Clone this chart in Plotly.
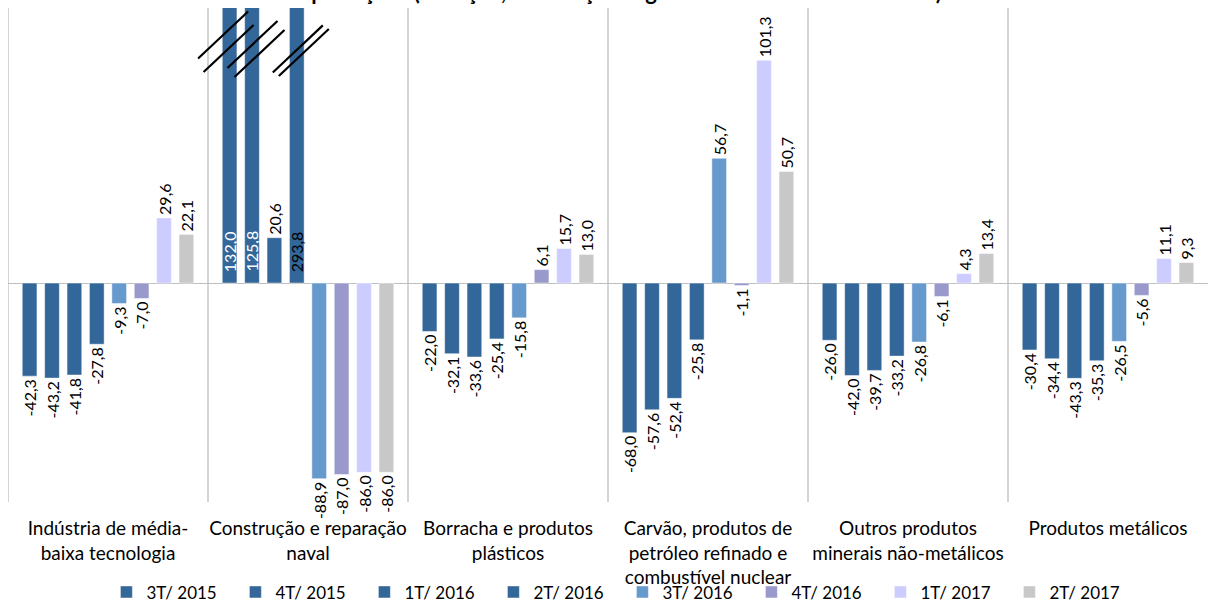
import plotly.graph_objects as go

categories = [
    "Indústria de média-<br>baixa tecnologia",
    "Construção e reparação<br>naval",
    "Borracha e produtos<br>plásticos",
    "Carvão, produtos de<br>petróleo refinado e<br>combustível nuclear",
    "Outros produtos<br>minerais não-metálicos",
    "Produtos metálicos",
]
series_names = ["3T/ 2015", "4T/ 2015", "1T/ 2016", "2T/ 2016",
                "3T/ 2016", "4T/ 2016", "1T/ 2017", "2T/ 2017"]
v_3T2015 = [-42.3, 132.0, -22.0, -68.0, -26.0, -30.4]
v_4T2015 = [-43.2, 125.8, -32.1, -57.6, -42.0, -34.4]
v_1T2016 = [-41.8, 20.6, -33.6, -52.4, -39.7, -43.3]
v_2T2016 = [-27.8, 293.8, -25.4, -25.8, -33.2, -35.3]
v_3T2016 = [-9.3, -88.9, -15.8, 56.7, -26.8, -26.5]
v_4T2016 = [-7.0, -87.0, 6.1, -1.1, -6.1, -5.6]
v_1T2017 = [29.6, -86.0, 15.7, 101.3, 4.3, 11.1]
v_2T2017 = [22.1, -86.0, 13.0, 50.7, 13.4, 9.3]
series_values = [v_3T2015, v_4T2015, v_1T2016, v_2T2016,
                 v_3T2016, v_4T2016, v_1T2017, v_2T2017]
colors = ["#336699", "#336699", "#336699", "#336699",
          "#6699CC", "#9999CC", "#CCCCFF", "#C8C8C8"]

Y_MIN, Y_MAX = -99.5, 125.0
BARGAP, BARGROUPGAP = 0.104, 0.344
FONT = "Lato, Carlito, Calibri, sans-serif"

fig = go.Figure()
n = len(series_names)
slot = (1 - BARGAP) / n
annotations = []
for i, (name, vals, col) in enumerate(zip(series_names, series_values, colors)):
    texts = []
    for c, v in enumerate(vals):
        if v > Y_MAX:
            texts.append("")
            xc = c - (1 - BARGAP) / 2 + slot * (i + 0.5)
            annotations.append(dict(
                x=xc, y=0, xref="x", yref="y", text=f"{v:.1f}".replace(".", ","),
                textangle=-90, showarrow=False, xanchor="center", yanchor="bottom",
                yshift=9, font=dict(family=FONT, size=16,
                                    color="white" if v < 200 else "black")))
        else:
            texts.append(f"{v:.1f}".replace(".", ","))
    fig.add_trace(go.Bar(
        name=name, x=categories, y=vals,
        marker=dict(color=col, line=dict(color="rgba(255,255,255,0.6)", width=0.8)),
        text=texts, textposition="outside", textangle=-90,
        constraintext="none",
        textfont=dict(family=FONT, size=16, color="black"),
        cliponaxis=(i < 4),
    ))

shapes = []
# category separators
for k in range(len(categories)):
    shapes.append(dict(type="line", xref="x", yref="paper", x0=k - 0.5, x1=k - 0.5,
                       y0=0, y1=1, line=dict(color="#BFBFBF", width=1.3)))

# axis-break marks on truncated bars
px_cat = 200.0
px_val = 2.2
breaks = [  # (category index, series index, [(dx px, value), ...])
    (1, 0, [(-6.5, 112.7), (-1.0, 106.6)]),
    (1, 1, [(0.5, 108.4), (7.5, 104.3)]),
    (1, 3, [(1.0, 106.4), (7.0, 104.8)]),
]
for c, s, lines in breaks:
    xc = c - (1 - BARGAP) / 2 + slot * (s + 0.5)
    for dxp, yv in lines:
        x_mid = xc + dxp / px_cat
        hw = 25 / px_cat
        hh = 23.5 / px_val
        shapes.append(dict(type="line", xref="x", yref="y",
                           x0=x_mid - hw, y0=yv - hh, x1=x_mid + hw, y1=yv + hh,
                           line=dict(color="black", width=2.2)))

annotations.append(dict(
    text="<b>Exportações (variação, em relação a igual trimestre do ano anterior)</b>",
    xref="paper", yref="paper", x=0.505, y=1, xanchor="center", yanchor="bottom",
    yshift=1, showarrow=False, font=dict(family=FONT, size=22, color="black")))

fig.update_layout(
    width=1208, height=606,
    margin=dict(l=8, r=0, t=8, b=104, autoexpand=False),
    paper_bgcolor="white", plot_bgcolor="white",
    barmode="group", bargap=BARGAP, bargroupgap=BARGROUPGAP,
    separators=",.",
    font=dict(family=FONT, color="black"),
    showlegend=True,
    legend=dict(orientation="h", x=0.512, xanchor="center", y=-0.183, yanchor="middle",
                bgcolor="rgba(0,0,0,0)",
                font=dict(family=FONT, size=17, color="black"),
                entrywidth=84, entrywidthmode="pixels", itemwidth=30,
                traceorder="normal"),
    xaxis=dict(showgrid=False, showline=False, ticks="outside", ticklen=9,
               tickcolor="rgba(0,0,0,0)", tickfont=dict(family=FONT, size=19, color="black"),
               range=[-0.5, 5.5], automargin=False),
    yaxis=dict(range=[Y_MIN, Y_MAX], showgrid=False, showticklabels=False,
               zeroline=True, zerolinecolor="#BFBFBF", zerolinewidth=1.3,
               automargin=False),
    shapes=shapes,
    annotations=annotations,
)

fig.write_html("out.html")
